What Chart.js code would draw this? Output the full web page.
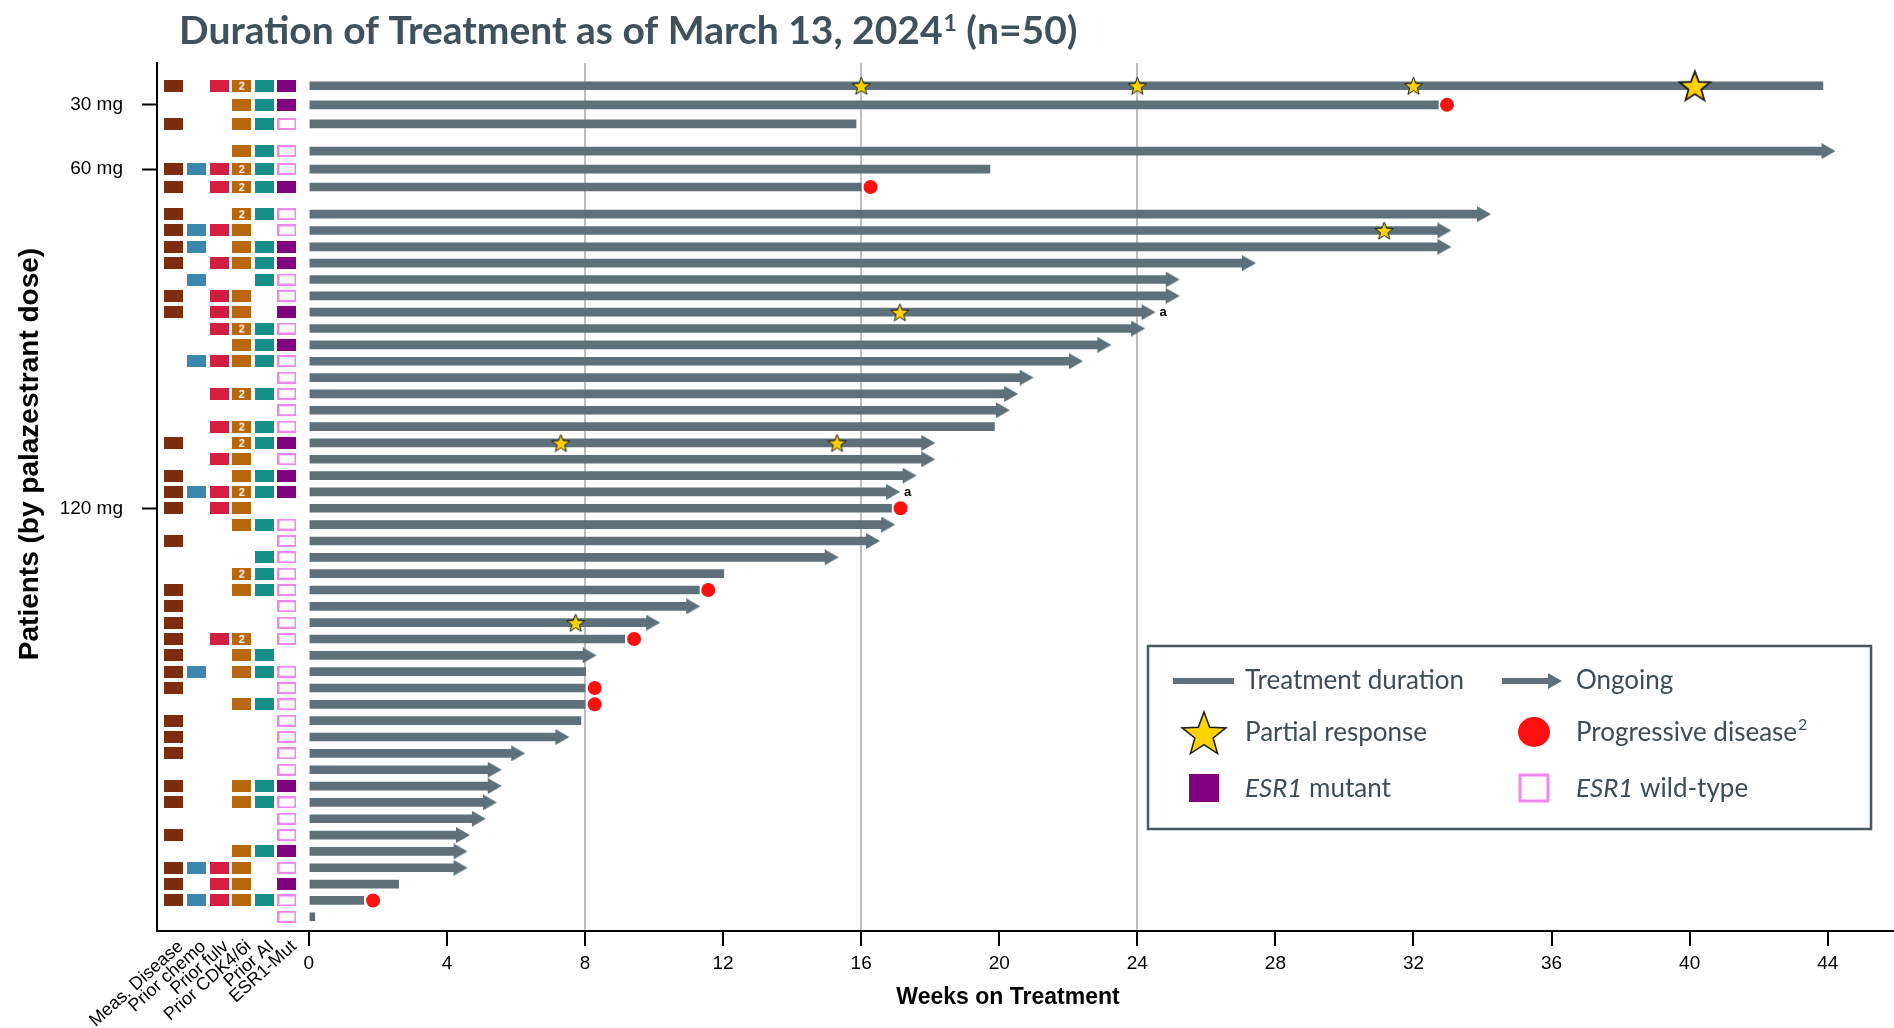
<!DOCTYPE html>
<html>
<head>
<meta charset="utf-8">
<script src="https://cdn.jsdelivr.net/npm/chart.js@4.4.1/dist/chart.umd.min.js"></script>
<style>
  html, body { margin: 0; padding: 0; background: #fff; }
  #wrap { width: 1894px; height: 1028px; position: relative; }
</style>
</head>
<body>
<div id="wrap"><canvas id="swimmer"></canvas></div>
<script>
// dose groups, rows listed top to bottom
const doseLabels = ['30 mg', '60 mg', '120 mg'];
const doseGroupSize = [3, 3, 44];
const doseTickRow = [2, 5, 25];

// weeks on treatment (end of bar) per patient
const weeks = [43.86, 32.72, 15.85, 43.85, 19.73, 16.0,
  33.87, 32.72, 32.72, 27.06, 24.85, 24.85, 24.15, 23.85, 22.87, 22.05, 20.62, 20.17, 19.93, 19.86,
  17.77, 17.77, 17.23, 16.75, 16.88, 16.61, 16.17, 14.97, 12.02, 11.31, 10.96, 9.8, 9.15, 7.96,
  8.02, 8.0, 8.0, 7.88, 7.17, 5.89, 5.21, 5.21, 5.07, 4.75, 4.29, 4.22, 4.22, 2.6, 1.59, 0.17];
const ongoing = [0, 0, 0, 1, 0, 0,
  1, 1, 1, 1, 1, 1, 1, 1, 1, 1, 1, 1, 1, 0,
  1, 1, 1, 1, 0, 1, 1, 1, 0, 0, 1, 1, 0, 1,
  0, 0, 0, 0, 1, 1, 1, 1, 1, 1, 1, 1, 1, 0, 0, 0];

// partial responses: row number and week
const prRows = [1, 1, 1, 8, 13, 21, 21, 32];
const prWeeks = [16.0, 24.0, 32.0, 31.15, 17.12, 7.3, 15.3, 7.73];
const prBigRows = [1];
const prBigWeeks = [40.15];

// progressive disease
const pdRows = [2, 6, 25, 30, 33, 36, 37, 49];
const pdWeeks = [32.97, 16.27, 17.14, 11.57, 9.42, 8.28, 8.28, 1.86];

// footnote "a" rows
const noteRows = [13, 24];

// baseline characteristics matrix
const matrixCols = ['Meas. Disease', 'Prior chemo', 'Prior fulv', 'Prior CDK4/6i', 'Prior AI', 'ESR1-Mut'];
const measDisease = [1,0,1,0,1,1, 1,1,1,1,0,1,1,0,0,0,0,0,0,0, 1,0,1,1,1,0,1,0,0,1,1,1,1,1, 1,1,0,1,1,1,0,1,1,0,1,0,1,1,1,0];
const priorChemo  = [0,0,0,0,1,0, 0,1,1,0,1,0,0,0,0,1,0,0,0,0, 0,0,0,1,0,0,0,0,0,0,0,0,0,0, 1,0,0,0,0,0,0,0,0,0,0,0,1,0,1,0];
const priorFulv   = [1,0,0,0,1,1, 0,1,0,1,0,1,1,1,0,1,0,1,0,1, 0,1,0,1,1,0,0,0,0,0,0,0,1,0, 0,0,0,0,0,0,0,0,0,0,0,0,1,1,1,0];
const priorCdk    = [2,1,1,1,2,2, 2,1,1,1,0,1,1,2,1,1,0,2,0,2, 2,1,1,2,1,1,0,0,2,1,0,0,2,1, 1,0,1,0,0,0,0,1,1,0,0,1,1,1,1,0];
const priorAi     = [1,1,1,1,1,1, 1,0,1,1,1,0,0,1,1,1,0,1,0,1, 1,0,1,1,0,1,0,1,1,1,0,0,0,1, 1,0,1,0,0,0,0,1,1,0,0,1,0,0,1,0];
const esr1 = 'mmwwwm' + 'wwmmwwmwmwwwww' + 'mwmm-wwwwwwww-' + 'wwwwwwwmwwwmwmww';

const weekTicks = [0, 4, 8, 12, 16, 20, 24, 28, 32, 36, 40, 44];
const gridWeeks = [8, 16, 24];

// ---- layout ----
const rowStep = [1.17, 1.10, 1.0];
const groupGap = 1.66;
const rowPos = [];
(function () {
  let p = 0;
  doseGroupSize.forEach((n, g) => {
    for (let k = 0; k < n; k++) { rowPos.push(p); p += rowStep[g]; }
    p += groupGap - rowStep[g];
  });
})();

const barColor = '#5E7079';
const fontAxis = "'Liberation Sans', Arial, sans-serif";
const fontDeck = "Lato, 'Open Sans', sans-serif";
const inkDeck = '#3D4C55';
const colColors = ['#7B2D0E', '#3B87AD', '#D21E41', '#B8660A', '#168F8A'];
const mutColor = '#80007F';
const wtColor = '#EE88EE';

function drawStar(g, cx, cy, r, lw) {
  g.beginPath();
  for (let k = 0; k < 10; k++) {
    const rad = k % 2 ? r * 0.42 : r;
    const a = -Math.PI / 2 + k * Math.PI / 5;
    g.lineTo(cx + rad * Math.cos(a), cy + rad * Math.sin(a));
  }
  g.closePath();
  g.fillStyle = '#FFD200';
  g.fill();
  g.lineWidth = lw;
  g.strokeStyle = '#1A1A1A';
  g.stroke();
}

function starCanvas(r, lw) {
  const c = document.createElement('canvas');
  const s = Math.ceil(2 * r + 4);
  c.width = s; c.height = s;
  drawStar(c.getContext('2d'), s / 2, s / 2 + r * 0.1, r, lw);
  return c;
}

function cellCanvas(fill, stroke, label) {
  const c = document.createElement('canvas');
  c.width = 19; c.height = 12;
  const g = c.getContext('2d');
  if (stroke) {
    g.fillStyle = '#fff';
    g.fillRect(0, 0, 19, 12);
    g.lineWidth = 2;
    g.strokeStyle = stroke;
    g.strokeRect(1, 1, 17, 10);
  } else {
    g.fillStyle = fill;
    g.fillRect(0, 0, 19, 12);
  }
  if (label) {
    g.fillStyle = '#fff';
    g.font = 'bold 11px ' + fontAxis;
    g.textAlign = 'center';
    g.textBaseline = 'middle';
    g.fillText(label, 9.5, 6.5);
  }
  return c;
}

function arrowCanvas() {
  // bar end sits at the canvas centre, head points right
  const c = document.createElement('canvas');
  c.width = 28; c.height = 16;
  const g = c.getContext('2d');
  g.fillStyle = barColor;
  g.beginPath();
  g.moveTo(13, 0); g.lineTo(27, 8); g.lineTo(13, 16); g.closePath();
  g.fill();
  return c;
}

const starSmall = starCanvas(9.5, 1);
const starBig = starCanvas(16, 1.8);
const arrowHead = arrowCanvas();

function cellPoints(flags, col) {
  const pts = [];
  flags.forEach((f, i) => { if (f) pts.push({ x: col, y: rowPos[i], v: f }); });
  return pts;
}

const matrixSets = [measDisease, priorChemo, priorFulv, priorCdk, priorAi].map((flags, c) => {
  const plain = cellCanvas(colColors[c]);
  const two = cellCanvas(colColors[c], null, '2');
  return {
    type: 'scatter', xAxisID: 'xm', order: 4,
    data: cellPoints(flags, c),
    pointStyle: ctx => (ctx.raw && ctx.raw.v === 2 ? two : plain),
    pointRadius: 6
  };
});
const mutCell = cellCanvas(mutColor);
const wtCell = cellCanvas(null, wtColor);
matrixSets.push({
  type: 'scatter', xAxisID: 'xm', order: 4,
  data: esr1.split('').map((s, i) => ({ x: 5, y: rowPos[i], s: s })).filter(p => p.s !== '-'),
  pointStyle: ctx => (ctx.raw && ctx.raw.s === 'm' ? mutCell : wtCell),
  pointRadius: 6
});

const overlay = {
  id: 'overlay',
  afterDraw(chart) {
    const ctx = chart.ctx;
    const xs = chart.scales.x, ys = chart.scales.y, xm = chart.scales.xm;
    ctx.save();

    // title
    ctx.fillStyle = '#3F525C';
    ctx.textBaseline = 'alphabetic';
    ctx.textAlign = 'left';
    let tx = 179;
    const ty = 44;
    ctx.font = 'bold 39px ' + fontDeck;
    const t1 = 'Duration of Treatment as of March 13, 2024';
    ctx.fillText(t1, tx, ty);
    tx += ctx.measureText(t1).width + 1;
    ctx.font = 'bold 23px ' + fontDeck;
    ctx.fillText('1', tx, ty - 13);
    tx += ctx.measureText('1').width;
    ctx.font = 'bold 39px ' + fontDeck;
    ctx.fillText(' (n=50)', tx, ty);

    // axis titles
    ctx.fillStyle = '#000';
    ctx.font = 'bold 23px ' + fontAxis;
    ctx.textAlign = 'center';
    ctx.textBaseline = 'middle';
    ctx.fillText('Weeks on Treatment', 1008, 998);
    ctx.save();
    ctx.translate(30, 454);
    ctx.rotate(-Math.PI / 2);
    ctx.font = 'bold 28px ' + fontAxis;
    ctx.fillText('Patients (by palazestrant dose)', 0, 0);
    ctx.restore();

    // matrix column labels
    ctx.font = '18px ' + fontAxis;
    ctx.textAlign = 'right';
    ctx.textBaseline = 'middle';
    matrixCols.forEach((lab, i) => {
      ctx.save();
      ctx.translate(xm.getPixelForValue(i) + 7, xs.top + 13);
      ctx.rotate(-42 * Math.PI / 180);
      ctx.fillText(lab, 0, 0);
      ctx.restore();
    });

    // footnote markers after arrows
    ctx.font = 'bold 13px ' + fontAxis;
    ctx.textAlign = 'left';
    noteRows.forEach(r => {
      ctx.fillText('a', xs.getPixelForValue(weeks[r - 1]) + 17, ys.getPixelForValue(rowPos[r - 1]));
    });

    // legend
    const L = 1148, T = 646, W = 723, H = 183;
    ctx.lineWidth = 2.5;
    ctx.strokeStyle = '#4A575E';
    ctx.strokeRect(L, T, W, H);
    ctx.fillStyle = barColor;
    ctx.fillRect(1173, 678, 61, 6);
    ctx.fillRect(1502, 678, 48, 6);
    ctx.beginPath();
    ctx.moveTo(1548, 673); ctx.lineTo(1562, 681); ctx.lineTo(1548, 689); ctx.closePath();
    ctx.fill();
    drawStar(ctx, 1204, 735, 23, 1.5);
    ctx.fillStyle = '#FF1010';
    ctx.beginPath();
    ctx.ellipse(1534, 732, 16, 15, 0, 0, Math.PI * 2);
    ctx.fill();
    ctx.fillStyle = mutColor;
    ctx.fillRect(1189, 774, 30, 28);
    ctx.fillStyle = '#fff';
    ctx.fillRect(1520, 775, 28, 26);
    ctx.lineWidth = 3;
    ctx.strokeStyle = wtColor;
    ctx.strokeRect(1520, 775, 28, 26);

    ctx.fillStyle = inkDeck;
    ctx.textAlign = 'left';
    ctx.textBaseline = 'alphabetic';
    const reg = '26px ' + fontDeck, ital = 'italic 26px ' + fontDeck;
    ctx.font = reg;
    ctx.fillText('Treatment duration', 1245, 689);
    ctx.fillText('Ongoing', 1576, 689);
    ctx.fillText('Partial response', 1245, 741);
    ctx.fillText('Progressive disease', 1576, 741);
    const sx = 1576 + ctx.measureText('Progressive disease').width + 1;
    ctx.font = '16px ' + fontDeck;
    ctx.fillText('2', sx, 730);
    [[1245, ' mutant'], [1576, ' wild-type']].forEach(([x0, rest]) => {
      ctx.font = ital;
      ctx.fillText('ESR1', x0, 797);
      const w = ctx.measureText('ESR1').width;
      ctx.font = reg;
      ctx.fillText(rest, x0 + w, 797);
    });

    ctx.restore();
  }
};

new Chart(document.getElementById('swimmer'), {
  type: 'scatter',
  data: {
    datasets: [
      {
        order: 0,
        data: prWeeks.map((w, i) => ({ x: w, y: rowPos[prRows[i] - 1] })),
        pointStyle: starSmall, pointRadius: 6
      },
      {
        order: 0,
        data: prBigWeeks.map((w, i) => ({ x: w, y: rowPos[prBigRows[i] - 1] })),
        pointStyle: starBig, pointRadius: 8
      },
      {
        order: 1,
        data: pdWeeks.map((w, i) => ({ x: w, y: rowPos[pdRows[i] - 1] })),
        pointStyle: 'circle', pointRadius: 7,
        backgroundColor: '#FF1010', borderWidth: 0
      },
      {
        order: 2,
        data: weeks.map((w, i) => ({ x: w, y: rowPos[i] })).filter((p, i) => ongoing[i]),
        pointStyle: arrowHead, pointRadius: 6
      },
      {
        type: 'bar', indexAxis: 'y', order: 3, grouped: false,
        data: weeks.map((w, i) => ({ x: [0, w], y: rowPos[i] })),
        backgroundColor: barColor, borderWidth: 0, barThickness: 8, maxBarThickness: 8
      },
      ...matrixSets
    ]
  },
  options: {
    responsive: true,
    maintainAspectRatio: false,
    animation: false,
    events: [],
    layout: { autoPadding: false, padding: { top: 63, left: 0, right: 0, bottom: 0 } },
    plugins: { legend: { display: false }, tooltip: { enabled: false }, title: { display: false } },
    scales: {
      x: {
        type: 'linear', min: -4.4, max: 45.92, offset: false,
        afterBuildTicks: s => { s.ticks = weekTicks.map(v => ({ value: v })); },
        afterFit: s => { s.height = 97; },
        ticks: { color: '#000', font: { family: fontAxis, size: 19 }, padding: 6, maxRotation: 0, autoSkip: false },
        grid: {
          offset: false,
          color: c => (c.tick && gridWeeks.includes(c.tick.value) ? '#BDBDBD' : 'rgba(0,0,0,0)'),
          lineWidth: 2, tickColor: '#000', tickLength: 15, tickWidth: 2
        },
        border: { color: '#000', width: 2 }
      },
      xm: {
        type: 'linear', display: false, min: -0.742, max: 75.98, offset: false
      },
      y: {
        type: 'linear', reverse: true, min: -1.39, max: 51.73, offset: false,
        afterBuildTicks: s => { s.ticks = doseTickRow.map(r => ({ value: rowPos[r - 1] })); },
        afterFit: s => { s.width = 157; },
        ticks: { color: '#000', font: { family: fontAxis, size: 19 }, padding: 19, autoSkip: false,
          callback: (v, i) => doseLabels[i] },
        grid: { offset: false, drawOnChartArea: false, tickLength: 15, tickColor: '#000', tickWidth: 2 },
        border: { color: '#000', width: 2 }
      }
    }
  },
  plugins: [overlay]
});
</script>
</body>
</html>
